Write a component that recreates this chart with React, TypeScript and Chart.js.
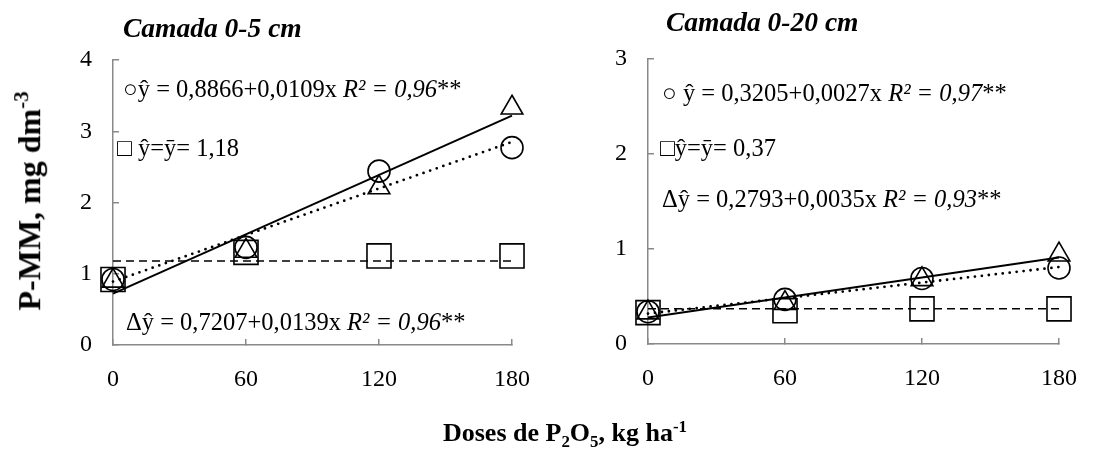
import React, { useEffect, useRef } from "react";
import { Chart, registerables } from "chart.js";
Chart.register(...registerables);

// ---------- data ----------
const doses = [0, 60, 120, 180];
const trendDoses = [0, 180];
const xTicks = [0, 60, 120, 180];

// Camada 0-5 cm
const c05Circle = [0.92, 1.37, 2.44, 2.77];
const c05Triangle = [0.9, 1.32, 2.21, 3.33];
const c05Square = [0.92, 1.3, 1.25, 1.25];
const c05CircleTrend = [0.89, 2.85];
const c05TriangleTrend = [0.72, 3.22];
const c05SquareTrend = [1.18, 1.18];
const c05YTicks = [0, 1, 2, 3, 4];

// Camada 0-20 cm
const c020Circle = [0.34, 0.47, 0.69, 0.8];
const c020Triangle = [0.33, 0.43, 0.68, 0.94];
const c020Square = [0.33, 0.35, 0.37, 0.37];
const c020CircleTrend = [0.32, 0.81];
const c020TriangleTrend = [0.28, 0.91];
const c020SquareTrend = [0.37, 0.37];
const c020YTicks = [0, 1, 2, 3];

// ---------- styles ----------
const FONT = "'Liberation Serif', 'Times New Roman', serif";
const AXIS = "#898989";
const INK = "#000000";

const pts = (xs: number[], ys: number[]) => xs.map((x, i) => ({ x, y: ys[i] }));

function buildDatasets(
  circle: number[], triangle: number[], square: number[],
  circleTrend: number[], triangleTrend: number[], squareTrend: number[]
) {
  const marker = (data: number[], style: string, r: number) => ({
    data: pts(doses, data),
    showLine: false,
    pointStyle: style,
    pointRadius: r,
    pointBorderWidth: 1.6,
    pointBorderColor: INK,
    pointBackgroundColor: "rgba(0,0,0,0)",
    clip: false,
  });
  const trend = (data: number[], width: number, dash: number[], cap: string) => ({
    data: pts(trendDoses, data),
    showLine: true,
    pointRadius: 0,
    borderColor: INK,
    borderWidth: width,
    borderDash: dash,
    borderCapStyle: cap,
    fill: false,
    clip: false,
  });
  return [
    trend(circleTrend, 2.8, [0, 7], "round"),
    trend(triangleTrend, 2, [], "butt"),
    trend(squareTrend, 1.5, [8, 5], "butt"),
    marker(circle, "circle", 11),
    marker(triangle, "triangle", 12.5),
    marker(square, "rect", 17),
  ];
}

function buildOptions(yTicks: number[], pad: { left: number; right: number; top: number; bottom: number }) {
  const tickFont = { family: FONT, size: 24 };
  return {
    responsive: false,
    maintainAspectRatio: false,
    animation: false,
    layout: { padding: pad },
    plugins: { legend: { display: false }, tooltip: { enabled: false }, title: { display: false } },
    scales: {
      x: {
        type: "linear",
        min: xTicks[0],
        max: xTicks[xTicks.length - 1],
        afterBuildTicks: (s: any) => { s.ticks = xTicks.map((v) => ({ value: v })); },
        grid: { drawOnChartArea: false, drawTicks: true, tickLength: -6, color: AXIS, lineWidth: 1.5 },
        border: { color: AXIS, width: 1.5 },
        ticks: { padding: 26, font: tickFont, color: INK, maxRotation: 0 },
        afterFit: (s: any) => { s.height = 60; },
      },
      y: {
        type: "linear",
        min: yTicks[0],
        max: yTicks[yTicks.length - 1],
        afterBuildTicks: (s: any) => { s.ticks = yTicks.map((v) => ({ value: v })); },
        grid: { drawOnChartArea: false, drawTicks: true, tickLength: -6, color: AXIS, lineWidth: 1.5 },
        border: { color: AXIS, width: 1.5 },
        ticks: { padding: 27, font: tickFont, color: INK },
        afterFit: (s: any) => { s.width = 40; },
      },
    },
  };
}

function Panel(props: {
  left: number; width: number; height: number;
  pad: { left: number; right: number; top: number; bottom: number };
  yTicks: number[];
  series: number[][];
}) {
  const ref = useRef<HTMLCanvasElement | null>(null);
  useEffect(() => {
    if (!ref.current) return;
    const [a, b, c, d, e, f] = props.series;
    const chart = new Chart(ref.current, {
      type: "scatter",
      data: { datasets: buildDatasets(a, b, c, d, e, f) as any },
      options: buildOptions(props.yTicks, props.pad) as any,
    });
    return () => chart.destroy();
  }, []);
  return (
    <canvas
      ref={ref}
      width={props.width}
      height={props.height}
      style={{ position: "absolute", left: props.left, top: 0, width: props.width, height: props.height }}
    />
  );
}

const txt = (left: number, top: number, size: number, extra: any = {}) => ({
  position: "absolute" as const,
  left,
  top,
  fontFamily: FONT,
  fontSize: size,
  lineHeight: 1,
  whiteSpace: "nowrap" as const,
  color: INK,
  transform: "translateY(-50%)",
  ...extra,
});

export default function App() {
  const EQ = 24.5;
  const TT = 27.5;
  return (
    <div style={{ position: "absolute", left: 0, top: 0, width: 1103, height: 450, background: "#fff", overflow: "hidden" }}>
      <Panel
        left={0} width={560} height={450}
        pad={{ left: 73, right: 48, top: 60, bottom: 45 }}
        yTicks={c05YTicks}
        series={[c05Circle, c05Triangle, c05Square, c05CircleTrend, c05TriangleTrend, c05SquareTrend]}
      />
      <Panel
        left={560} width={543} height={450}
        pad={{ left: 48, right: 44, top: 59, bottom: 46 }}
        yTicks={c020YTicks}
        series={[c020Circle, c020Triangle, c020Square, c020CircleTrend, c020TriangleTrend, c020SquareTrend]}
      />

      {/* panel titles */}
      <div style={txt(123, 28, TT, { fontWeight: "bold", fontStyle: "italic" })}>Camada 0-5 cm</div>
      <div style={txt(666, 22, TT, { fontWeight: "bold", fontStyle: "italic" })}>Camada 0-20 cm</div>

      {/* equations, left */}
      <div style={txt(123, 89, EQ)}>○ŷ = 0,8866+0,0109x <i>R² = 0,96</i>**</div>
      <div style={txt(117, 148, EQ)}>□ ŷ=ȳ= 1,18</div>
      <div style={txt(126, 322, EQ)}>Δŷ = 0,7207+0,0139x <i>R² = 0,96</i>**</div>

      {/* equations, right */}
      <div style={txt(662, 93, EQ)}>○ ŷ = 0,3205+0,0027x <i>R² = 0,97</i>**</div>
      <div style={txt(660, 148, EQ)}>□ŷ=ȳ= 0,37</div>
      <div style={txt(662, 199, EQ)}>Δŷ = 0,2793+0,0035x <i>R² = 0,93</i>**</div>

      {/* axis titles */}
      <div
        style={{
          position: "absolute", left: 28, top: 201, fontFamily: FONT, fontWeight: "bold", fontSize: 32,
          lineHeight: 1, whiteSpace: "nowrap", color: INK,
          transform: "translate(-50%, -50%) rotate(-90deg)",
        }}
      >
        P-MM, mg dm<sup style={{ fontSize: "0.65em" }}>-3</sup>
      </div>
      <div
        style={{
          position: "absolute", left: 565, top: 435, fontFamily: FONT, fontWeight: "bold", fontSize: 26,
          lineHeight: 1, whiteSpace: "nowrap", color: INK, transform: "translate(-50%, -50%)",
        }}
      >
        Doses de P<sub style={{ fontSize: "0.65em" }}>2</sub>O<sub style={{ fontSize: "0.65em" }}>5</sub>, kg ha<sup style={{ fontSize: "0.65em" }}>-1</sup>
      </div>
    </div>
  );
}
